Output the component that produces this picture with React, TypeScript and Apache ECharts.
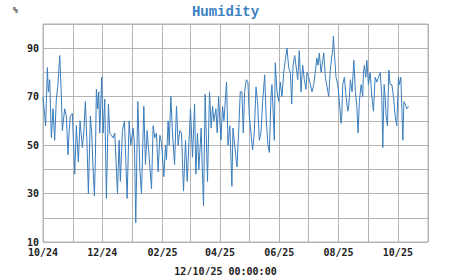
import React, { useEffect, useRef } from "react";
import * as echarts from "echarts";

// Day offsets from 2024-10-01 (UTC) and humidity values (%)
const START_DATE = "2024-10-01";
const dayOffsets = [
  0, 2.7, 4.5, 5.5, 6.9, 8.6, 10.3, 12, 13.7, 15.4, 17.2, 18.9, 19.9, 22.3, 24, 25.7, 26.8, 28.1, 30.2,
  32.6, 34.3, 36.4, 38.1, 40.5, 41.9, 43.6, 45.3, 46.7, 48.7, 50.1, 51.5, 52.9, 53.9, 54.9, 56.3, 57.3,
  58.4, 60.4, 61.8, 63.5, 65.2, 67.3, 68.7, 70.4, 72.1, 73.8, 75.5, 76.6, 78.3, 79.6, 81.7, 83.8, 86.5,
  88.6, 90.3, 92.7, 94.1, 95.4, 97.5, 99.6, 101.3, 103.7, 105.4, 107.1, 109.2, 111.6, 113.3, 115, 116.7,
  118.4, 120.2, 121.9, 124.3, 126, 127, 128.7, 129.8, 131.5, 133.2, 135.3, 137.3, 139, 140.7, 142.5,
  144.5, 146.6, 148.3, 151.7, 153.8, 155.9, 157.2, 158.9, 160.3, 162.7, 163.4, 165.1, 166.8, 169.2,
  171.3, 173, 174.4, 175.8, 177.8, 179.2, 180.6, 183, 184.7, 186.1, 188.8, 190.3, 192.2,
  194.3, 195.4, 197.1, 199.5, 201.2, 202.9, 204.6, 206, 207.4, 209.1, 210.8, 212.2, 213.9, 215.6, 217.3,
  219.1, 220.8, 222.5, 224.2, 225.9, 228, 229.7, 231.4, 232.8, 234.5, 235.5, 237.3, 237.9, 238.9, 240.7,
  242.4, 244.1, 245.8, 247.6, 249.2, 251, 252.7, 254.4, 255.8, 257.2, 258.9,
  262, 263.6, 265.4, 267.1, 268.8, 270.5, 271.6, 273.3, 275, 276.7, 278.5, 280.1, 281.6, 282.9, 284.2,
  286, 287.7, 288.8, 290.4, 292.2, 293.9, 295.3, 296.6, 298.1, 298.7, 299.7, 301.4, 303.2, 304.8, 306.6,
  307.3, 308.3, 310, 311.7, 313.5, 314.5, 316.2, 317.9, 319.7, 321.3, 322.8, 324.1, 325.4, 327.2, 328.9,
  329.6, 330.6, 332, 333.1, 334.7, 336.5, 338.2, 339.9, 341.6, 343.4, 345, 346.8, 348.5, 349.5, 350.9,
  351.9, 352.9, 354.3, 355.7, 357.1, 358.8, 360.5, 362.2, 363.9, 365.6, 366.6, 368.1, 369.1, 370.1,
  371.2, 372.5, 374.3, 375.9,
];
const humidity = [
  70, 58, 82, 72, 77, 53, 65, 52, 69, 75, 87, 70, 56, 65, 62, 46, 55, 62, 63,
  38, 58, 43, 60, 49, 55, 68, 50, 30, 62, 55, 40, 29, 45, 73, 65, 72,
  55, 78, 55, 69, 28, 67, 55, 54, 53, 55, 40, 30, 52, 35, 56, 60, 28,
  60, 50, 57, 50, 18, 68, 40, 30, 66, 42, 56, 45, 32, 58, 53, 55,
  39, 54, 51, 37, 50, 44, 60, 50, 70, 55, 42, 66, 50, 56, 55,
  31, 52, 35, 65, 45, 67, 38, 55, 40, 57, 46, 25, 71, 35,
  72, 57, 66, 60, 65, 55, 70, 52, 66, 60, 76, 50, 58,
  33, 57, 50, 41, 55, 72, 72, 55, 72, 77, 76, 62, 55, 48, 55,
  74, 67, 52, 55, 68, 79, 60, 50, 47, 70, 75, 58, 52, 84, 72,
  68, 76, 70, 80, 85, 90, 82, 80, 67, 83, 87,
  77, 89, 72, 83, 77, 73, 80, 78, 75, 72, 75, 80, 86, 83, 88,
  80, 85, 88, 78, 74, 70, 80, 85, 90, 95, 88, 78, 75, 68, 59,
  62, 75, 78, 70, 64, 66, 77, 72, 85, 72, 66, 55, 68, 75, 70,
  80, 83, 78, 85, 75, 80, 70, 64, 78, 76, 78, 80, 70, 49, 75,
  70, 62, 58, 81, 75, 75, 70, 62, 58, 78, 75, 78, 65, 52,
  68, 67, 65, 66,
];

const monthStarts = [
  "2024-10-01", "2024-11-01", "2024-12-01", "2025-01-01", "2025-02-01", "2025-03-01", "2025-04-01",
  "2025-05-01", "2025-06-01", "2025-07-01", "2025-08-01", "2025-09-01", "2025-10-01", "2025-11-01",
];
const labelDates = ["2024-10-01", "2024-12-01", "2025-02-01", "2025-04-01", "2025-06-01", "2025-08-01", "2025-10-01"];
const tickLabels = ["10/24", "12/24", "02/25", "04/25", "06/25", "08/25", "10/25"];
const yTickLabels = [10, 30, 50, 70, 90];

const TITLE = "Humidity";
const UNIT = "%";
const STAMP = "12/10/25 00:00:00";

const DAY_MS = 86400000;
const toDay = (s: string) =>
  Math.round((Date.parse(s + "T00:00:00Z") - Date.parse(START_DATE + "T00:00:00Z")) / DAY_MS);

export default function App() {
  const ref = useRef<HTMLDivElement>(null);
  useEffect(() => {
    document.body.style.margin = "0";
    if (!ref.current) return;
    const chart = echarts.init(ref.current, null, { renderer: "svg" });
    const data = dayOffsets.map((d, i) => [d, humidity[i]]);
    const monthDays = monthStarts.map(toDay);
    const labelDays = labelDates.map(toDay);
    const font = "DejaVu Sans Mono";
    chart.setOption({
      animation: false,
      backgroundColor: "#ffffff",
      title: [
        {
          text: TITLE,
          left: "center",
          top: 0,
          textStyle: { fontFamily: "Liberation Mono", fontWeight: "bold", fontSize: 14, color: "#3a80c0" },
        },
        {
          text: UNIT,
          left: 8,
          top: 1,
          textStyle: { fontFamily: font, fontWeight: "bold", fontSize: 8, color: "#333" },
        },
        {
          text: STAMP,
          left: "center",
          top: 261,
          textStyle: { fontFamily: font, fontWeight: "bold", fontSize: 10, color: "#222" },
        },
      ],
      grid: {
        left: 43,
        right: 23,
        top: 24,
        bottom: 33,
        show: true,
        borderColor: "#b4b4b4",
        borderWidth: 1,
        containLabel: false,
      },
      xAxis: {
        type: "value",
        min: monthDays[0],
        max: monthDays[monthDays.length - 1],
        axisLine: { show: false },
        axisTick: { show: false, customValues: monthDays },
        splitLine: { show: true, lineStyle: { color: "#b4b4b4", width: 1 } },
        axisLabel: {
          customValues: labelDays,
          margin: 5,
          fontFamily: font,
          fontWeight: "bold",
          fontSize: 10,
          color: "#222",
          formatter: (v: number) => {
            const i = labelDays.indexOf(v);
            return i >= 0 ? tickLabels[i] : "";
          },
          hideOverlap: false,
        },
      },
      yAxis: {
        type: "value",
        min: 10,
        max: 100,
        interval: 10,
        axisLine: { show: false },
        axisTick: { show: false },
        splitLine: { show: true, lineStyle: { color: "#b4b4b4", width: 1 } },
        axisLabel: {
          customValues: yTickLabels,
          margin: 4,
          fontFamily: font,
          fontWeight: "bold",
          fontSize: 10,
          color: "#222",
          formatter: (v: number) => (yTickLabels.indexOf(v) >= 0 ? String(v) : ""),
        },
      },
      series: [
        {
          type: "line",
          data,
          showSymbol: false,
          symbol: "none",
          lineStyle: { color: "#3a7dbd", width: 1 },
        },
      ],
    });
    return () => chart.dispose();
  }, []);
  return <div ref={ref} style={{ width: 451, height: 275 }} />;
}
